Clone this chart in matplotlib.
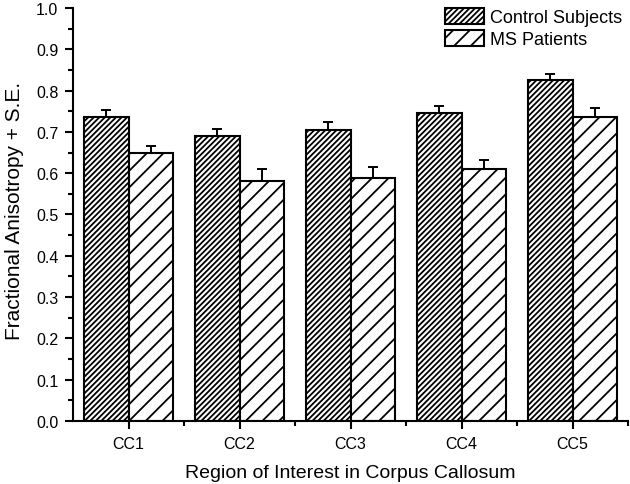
import matplotlib
matplotlib.use("Agg")
import matplotlib.pyplot as plt
import numpy as np
from matplotlib.ticker import MultipleLocator, FixedLocator, FormatStrFormatter

# Datos
regiones = ["CC1", "CC2", "CC3", "CC4", "CC5"]
control = [0.737, 0.690, 0.705, 0.745, 0.826]
control_se = [0.016, 0.017, 0.018, 0.017, 0.013]
pacientes = [0.650, 0.581, 0.588, 0.609, 0.735]
pacientes_se = [0.017, 0.030, 0.028, 0.024, 0.022]

plt.rcParams['font.family'] = ['Liberation Sans', 'DejaVu Sans']
plt.rcParams['hatch.linewidth'] = 1.3

fig = plt.figure(figsize=(6.3, 4.85), dpi=100)
ax = fig.add_axes([73/630, 63/485, 555/630, 413/485])

x = np.arange(1, len(regiones) + 1)
ancho = 0.4
cero = [0] * len(regiones)
estilo_err = dict(ecolor='black', elinewidth=1.4, capsize=3.3, capthick=1.4)

# solo la mitad superior del error (como en el original)
ax.bar(x - ancho/2, control, ancho, yerr=[cero, control_se], facecolor='white', edgecolor='black',
       linewidth=1.5, hatch='//////', label='Control Subjects', error_kw=estilo_err, zorder=2)
ax.bar(x + ancho/2, pacientes, ancho, yerr=[cero, pacientes_se], facecolor='white', edgecolor='black',
       linewidth=1.5, hatch='//', label='MS Patients', error_kw=estilo_err, zorder=2)

ax.set_xlim(0.5, 5.5)
ax.set_ylim(0, 1.0)
ax.set_xticks(x)
ax.set_xticklabels(regiones)
ax.xaxis.set_minor_locator(FixedLocator(np.arange(1.5, 5.6, 1.0)))
ax.yaxis.set_major_locator(MultipleLocator(0.1))
ax.yaxis.set_minor_locator(MultipleLocator(0.05))
ax.yaxis.set_major_formatter(FormatStrFormatter('%.1f'))

for lado in ['top', 'right']:
    ax.spines[lado].set_visible(False)
for lado in ['left', 'bottom']:
    ax.spines[lado].set_linewidth(1.5)

ax.tick_params(which='major', direction='out', length=6, width=1.5, labelsize=11.5)
ax.tick_params(which='minor', direction='out', length=3.6, width=1.5)
ax.tick_params(axis='x', which='major', pad=5)
ax.tick_params(axis='y', which='major', pad=4.5)

ax.set_xlabel("Region of Interest in Corpus Callosum", fontsize=14, labelpad=9)
ax.set_ylabel("Fractional Anisotropy + S.E.", fontsize=15)
ax.yaxis.set_label_coords(-0.088, 0.51)

leg = fig.legend(loc='upper right', bbox_to_anchor=(622/630, 1 - 9/485), frameon=False,
                 fontsize=13, handlelength=2.2, handleheight=1.0, handletextpad=0.3,
                 labelspacing=0.2, borderpad=0, borderaxespad=0)

fig.savefig("out.png", dpi=100)
